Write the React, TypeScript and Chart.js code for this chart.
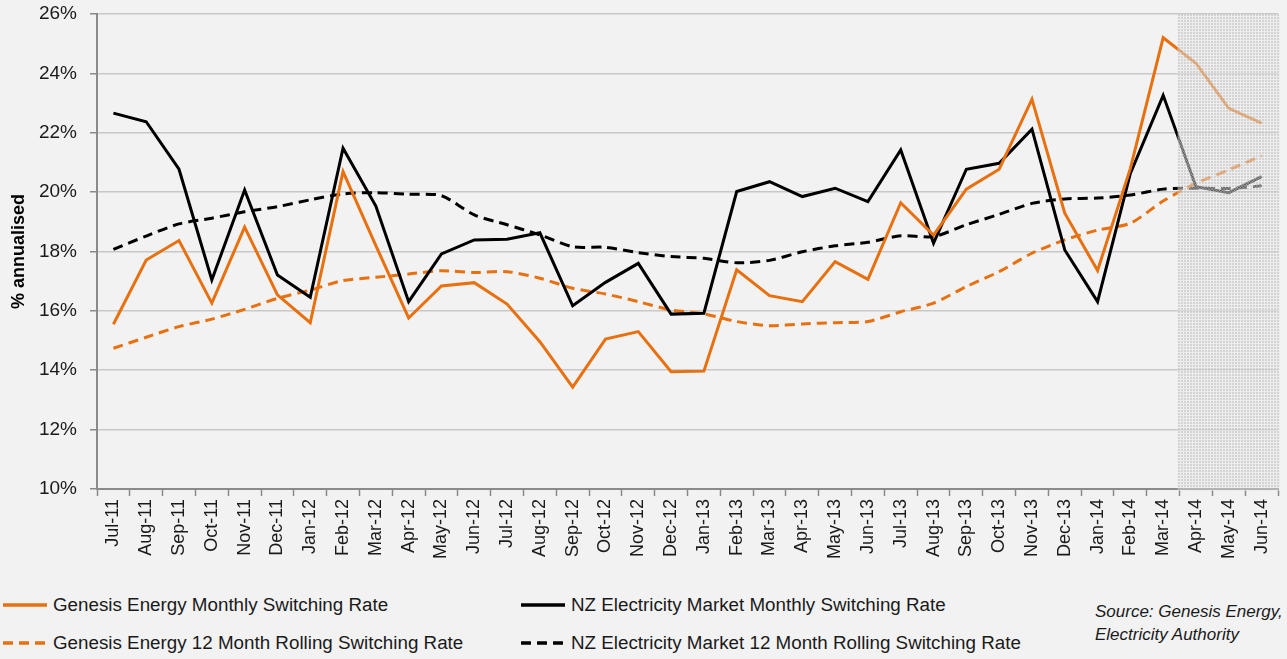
import React, { useEffect, useRef } from 'react';
import { Chart, registerables } from 'chart.js';

Chart.register(...registerables);

const months = [
  'Jul-11', 'Aug-11', 'Sep-11', 'Oct-11', 'Nov-11', 'Dec-11', 'Jan-12', 'Feb-12', 'Mar-12',
  'Apr-12', 'May-12', 'Jun-12', 'Jul-12', 'Aug-12', 'Sep-12', 'Oct-12', 'Nov-12', 'Dec-12',
  'Jan-13', 'Feb-13', 'Mar-13', 'Apr-13', 'May-13', 'Jun-13', 'Jul-13', 'Aug-13', 'Sep-13',
  'Oct-13', 'Nov-13', 'Dec-13', 'Jan-14', 'Feb-14', 'Mar-14', 'Apr-14', 'May-14', 'Jun-14',
];

const genesisMonthly = [
  15.55, 17.71, 18.37, 16.26, 18.82, 16.54, 15.6, 20.69, 18.2,
  15.76, 16.84, 16.95, 16.23, 14.96, 13.43, 15.05, 15.3, 13.95,
  13.97, 17.38, 16.51, 16.31, 17.66, 17.06, 19.64, 18.55, 20.1,
  20.77, 23.13, 19.29, 17.36, 20.8, 25.2, 24.34, 22.82, 22.32,
];

const nzMonthly = [
  22.66, 22.37, 20.77, 17.04, 20.07, 17.21, 16.46, 21.48, 19.53,
  16.31, 17.92, 18.39, 18.41, 18.63, 16.17, 16.96, 17.6, 15.89,
  15.92, 20.02, 20.35, 19.85, 20.13, 19.68, 21.42, 18.28, 20.77,
  20.97, 22.12, 18.05, 16.31, 20.63, 23.26, 20.18, 19.98, 20.52,
];

const genesisRolling = [
  14.74, 15.11, 15.47, 15.72, 16.05, 16.42, 16.7, 17.02, 17.13,
  17.24, 17.35, 17.29, 17.32, 17.1, 16.76, 16.57, 16.31, 16.03,
  15.9, 15.64, 15.5, 15.56, 15.6, 15.64, 15.97, 16.26, 16.82,
  17.32, 17.94, 18.39, 18.72, 18.95, 19.7, 20.3, 20.75, 21.22,
];

const nzRolling = [
  18.07, 18.52, 18.93, 19.12, 19.34, 19.51, 19.74, 19.94, 19.98,
  19.93, 19.88, 19.23, 18.9, 18.56, 18.16, 18.14, 17.96, 17.83,
  17.77, 17.62, 17.7, 17.99, 18.19, 18.31, 18.53, 18.5, 18.9,
  19.25, 19.62, 19.77, 19.8, 19.9, 20.1, 20.13, 20.12, 20.21,
];

const yMin = 10;
const yMax = 26;
const yStep = 2;
const forecastStartIndex = 33; // Apr-14

const seriesNames = [
  'Genesis Energy Monthly Switching Rate',
  'NZ Electricity Market Monthly Switching Rate',
  'Genesis Energy 12 Month Rolling Switching Rate',
  'NZ Electricity Market 12 Month Rolling Switching Rate',
];

const ORANGE = '#E8700E';
const BLACK = '#000000';
const FONT = '"Liberation Sans", Arial, Helvetica, sans-serif';

const shadePlugin = {
  id: 'forecastShade',
  afterDatasetsDraw(chart: any) {
    const { ctx, chartArea, scales } = chart;
    const x = scales.x;
    const left = (x.getPixelForValue(forecastStartIndex - 1) + x.getPixelForValue(forecastStartIndex)) / 2 - 2;
    const pc = document.createElement('canvas');
    pc.width = 3;
    pc.height = 3;
    const p = pc.getContext('2d')!;
    p.fillStyle = 'rgba(196,196,196,0.68)';
    p.fillRect(0, 0, 3, 3);
    p.clearRect(0, 1, 3, 1);
    p.clearRect(1, 0, 1, 3);
    p.fillStyle = 'rgba(232,232,232,0.45)';
    p.fillRect(0, 1, 3, 1);
    p.fillRect(1, 0, 1, 3);
    const pattern = ctx.createPattern(pc, 'repeat');
    ctx.save();
    ctx.fillStyle = pattern;
    ctx.fillRect(left, chartArea.top, chartArea.right + 2 - left, chartArea.bottom - chartArea.top + 2);
    ctx.restore();
  },
};

function ChartCanvas() {
  const ref = useRef<HTMLCanvasElement | null>(null);
  useEffect(() => {
    if (!ref.current) return;
    const chart = new Chart(ref.current, {
      type: 'line',
      data: {
        labels: months,
        datasets: [
          {
            label: seriesNames[0],
            data: genesisMonthly,
            borderColor: ORANGE,
            borderWidth: 3,
            pointRadius: 0,
            tension: 0,
          },
          {
            label: seriesNames[1],
            data: nzMonthly,
            borderColor: BLACK,
            borderWidth: 3,
            pointRadius: 0,
            tension: 0,
          },
          {
            label: seriesNames[2],
            data: genesisRolling,
            borderColor: ORANGE,
            borderWidth: 3,
            borderDash: [10, 6],
            pointRadius: 0,
            tension: 0.25,
          },
          {
            label: seriesNames[3],
            data: nzRolling,
            borderColor: BLACK,
            borderWidth: 3,
            borderDash: [10, 6],
            pointRadius: 0,
            tension: 0.25,
          },
        ],
      },
      options: {
        animation: false,
        responsive: false,
        maintainAspectRatio: false,
        layout: { padding: { top: 0, right: 9, left: 0, bottom: 0 } },
        plugins: {
          legend: { display: false },
          tooltip: { enabled: false },
        },
        scales: {
          x: {
            type: 'category',
            offset: true,
            grid: {
              offset: true,
              drawOnChartArea: false,
              drawTicks: true,
              tickLength: 7,
              tickColor: '#8a8a8a',
              tickWidth: 1.5,
            },
            border: { display: true, color: '#8a8a8a', width: 2 },
            ticks: {
              autoSkip: false,
              maxRotation: 90,
              minRotation: 90,
              padding: 3,
              color: '#1a1a1a',
              font: { family: FONT, size: 18 },
            },
            afterFit(scale: any) {
              scale.height = 101;
            },
          },
          y: {
            min: yMin,
            max: yMax,
            ticks: {
              stepSize: yStep,
              padding: 13,
              color: '#1a1a1a',
              font: { family: FONT, size: 19, lineHeight: 0.1 },
              callback: (v: any) => `${v}%`,
            },
            grid: {
              color: (c: any) => (c.tick && c.tick.value === yMin ? 'rgba(0,0,0,0)' : '#c8c8c8'),
              lineWidth: 1.5,
              drawTicks: true,
              tickLength: 7,
              tickColor: '#8a8a8a',
            },
            border: { display: true, color: '#8a8a8a', width: 2 },
            title: {
              display: true,
              text: '% annualised',
              color: '#000',
              font: { family: FONT, size: 18, weight: 'bold' },
              padding: { top: 8, bottom: 0 },
            },
            afterFit(scale: any) {
              scale.width = 97;
            },
          },
        },
      },
      plugins: [shadePlugin],
    });
    return () => chart.destroy();
  }, []);
  return <canvas ref={ref} width={1287} height={590} style={{ display: 'block', width: 1287, height: 590 }} />;
}

function LegendItem(props: { x: number; y: number; color: string; dashed: boolean; text: string }) {
  const { x, y, color, dashed, text } = props;
  return (
    <div style={{ position: 'absolute', left: x, top: y - 12, height: 24, display: 'flex', alignItems: 'center', whiteSpace: 'nowrap' }}>
      <svg width={46} height={6} style={{ display: 'block' }}>
        <line x1={1} y1={3} x2={45} y2={3} stroke={color} strokeWidth={3.5} strokeDasharray={dashed ? '10 6' : undefined} />
      </svg>
      <span style={{ marginLeft: 5, fontFamily: FONT, fontSize: 18.8, color: '#1a1a1a' }}>{text}</span>
    </div>
  );
}

export default function App() {
  useEffect(() => {
    document.body.style.margin = '0';
    document.body.style.background = '#f2f2f2';
  }, []);
  return (
    <div style={{ position: 'relative', width: 1287, height: 659, background: '#f2f2f2', overflow: 'hidden' }}>
      <ChartCanvas />
      <LegendItem x={2} y={605} color={ORANGE} dashed={false} text={seriesNames[0]} />
      <LegendItem x={520} y={605} color={BLACK} dashed={false} text={seriesNames[1]} />
      <LegendItem x={2} y={643} color={ORANGE} dashed={true} text={seriesNames[2]} />
      <LegendItem x={520} y={643} color={BLACK} dashed={true} text={seriesNames[3]} />
      <div style={{ position: 'absolute', left: 1095, top: 600, fontFamily: FONT, fontStyle: 'italic', fontSize: 17, lineHeight: '23px', color: '#1a1a1a' }}>
        Source: Genesis Energy,
        <br />
        Electricity Authority
      </div>
    </div>
  );
}
